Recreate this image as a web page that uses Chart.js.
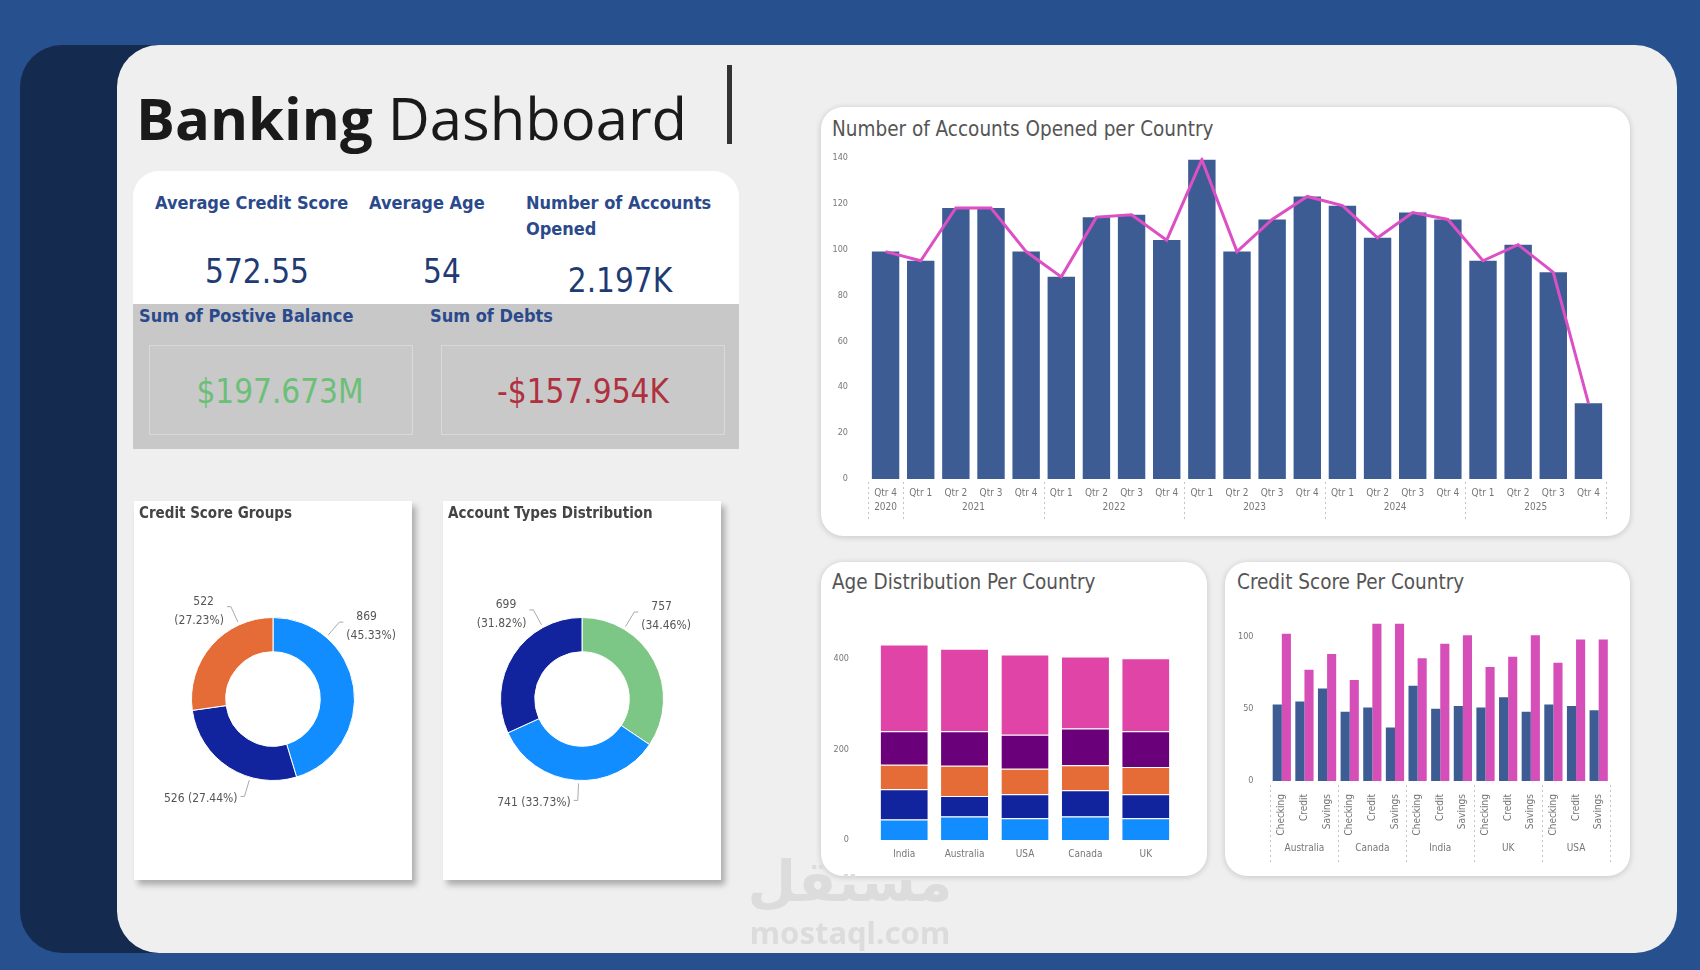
<!DOCTYPE html>
<html>
<head>
<meta charset="utf-8">
<script src="https://cdn.jsdelivr.net/npm/chart.js@4.4.1/dist/chart.umd.min.js"></script>
<style>
  html, body { margin: 0; padding: 0; }
  body { width: 1700px; height: 970px; background: #27508f; position: relative; overflow: hidden;
         font-family: 'DejaVu Sans Condensed', 'Liberation Sans Narrow', Roboto, sans-serif; }
  .abs { position: absolute; }
  .navy { left: 20px; top: 45px; width: 300px; height: 908px; background: #152a4f; border-radius: 42px; }
  .panel { left: 117px; top: 45px; width: 1560px; height: 908px; background: #efefef; border-radius: 42px; }
  .card { background: #fff; border-radius: 22px; box-shadow: 0 1px 6px rgba(0,0,0,0.18); }
  .sq { background: #fff; box-shadow: 4px 5px 6px rgba(0,0,0,0.28); }
  .ctitle { color: #555; font-size: 20.5px; white-space: nowrap; }
  .dtitle { color: #444; font-size: 15px; font-weight: bold; white-space: nowrap; }
  .klabel { color: #2b4a8c; font-size: 18px; font-weight: bold; white-space: nowrap; line-height: 26px; }
  .kval { color: #1f3b73; font-size: 33px; white-space: nowrap; line-height: 40px; transform: translateX(-50%); }
  .big { font-size: 33px; line-height: 44px; white-space: nowrap; transform: translateX(-50%); }
  .box { background: #c9c9c9; border: 1px solid #d9d9d9; }
</style>
</head>
<body>
<div class="abs navy"></div>
<div class="abs panel"></div>

<!-- title -->
<div class="abs" style="left:136px; top:78px; font-family:'Open Sans','Noto Sans',sans-serif; font-size:58px; line-height:80px; color:#1a1a1a; white-space:nowrap;">
  <span style="font-weight:bold;">Banking</span> Dashboard
</div>
<div class="abs" style="left:727px; top:65px; width:5px; height:79px; background:#333;"></div>

<!-- KPI block -->
<div class="abs" style="left:133px; top:171px; width:606px; height:133px; background:#fff; border-radius:26px 26px 0 0;"></div>
<div class="abs" style="left:133px; top:304px; width:606px; height:145px; background:#c8c8c8;"></div>
<div class="abs box" style="left:149px; top:345px; width:262px; height:88px;"></div>
<div class="abs box" style="left:441px; top:345px; width:282px; height:88px;"></div>

<div class="abs klabel" style="left:155px; top:190px;">Average Credit Score</div>
<div class="abs klabel" style="left:369px; top:190px;">Average Age</div>
<div class="abs klabel" style="left:526px; top:190px;">Number of Accounts<br>Opened</div>
<div class="abs kval" style="left:257px; top:252px;">572.55</div>
<div class="abs kval" style="left:442px; top:252px;">54</div>
<div class="abs kval" style="left:620px; top:261px;">2.197K</div>
<div class="abs klabel" style="left:139px; top:303px;">Sum of Postive Balance</div>
<div class="abs klabel" style="left:430px; top:303px;">Sum of Debts</div>
<div class="abs big" style="left:280px; top:370px; color:#6cbf77;">$197.673M</div>
<div class="abs big" style="left:583px; top:370px; color:#b0303f;">-$157.954K</div>

<!-- donut cards -->
<div class="abs sq" style="left:134px; top:501px; width:278px; height:379px;">
  <div class="abs dtitle" style="left:5px; top:3px;">Credit Score Groups</div>
  <canvas id="donut1"></canvas>
</div>
<div class="abs sq" style="left:443px; top:501px; width:278px; height:379px;">
  <div class="abs dtitle" style="left:5px; top:3px;">Account Types Distribution</div>
  <canvas id="donut2"></canvas>
</div>

<!-- main bar chart -->
<div class="abs card" style="left:821px; top:107px; width:809px; height:429px;"></div>
<div class="abs ctitle" style="left:832px; top:117px;">Number of Accounts Opened per Country</div>
<div class="abs" style="left:821px; top:140px; width:809px; height:396px;"><canvas id="accounts"></canvas></div>

<!-- age chart -->
<div class="abs card" style="left:821px; top:562px; width:386px; height:314px;"></div>
<div class="abs ctitle" style="left:832px; top:570px;">Age Distribution Per Country</div>
<div class="abs" style="left:821px; top:600px; width:386px; height:276px;"><canvas id="age"></canvas></div>

<!-- credit score chart -->
<div class="abs card" style="left:1225px; top:562px; width:405px; height:314px;"></div>
<div class="abs ctitle" style="left:1237px; top:570px;">Credit Score Per Country</div>
<div class="abs" style="left:1225px; top:600px; width:405px; height:276px;"><canvas id="credit"></canvas></div>

<!-- watermark -->
<div class="abs" style="left:850px; top:846px; transform:translateX(-50%); font-family:'Noto Sans','DejaVu Sans',sans-serif; font-size:56px; font-weight:bold; color:#dcdcdc; line-height:66px;">مستقل</div>
<div class="abs" style="left:850px; top:912px; transform:translateX(-50%); font-family:'Noto Sans','DejaVu Sans',sans-serif; font-size:31px; font-weight:bold; color:#dcdcdc; line-height:40px;">mostaql.com</div>

<script>
// ---- data ----
const quarterLabels = ['Qtr 4','Qtr 1','Qtr 2','Qtr 3','Qtr 4','Qtr 1','Qtr 2','Qtr 3','Qtr 4','Qtr 1','Qtr 2','Qtr 3','Qtr 4','Qtr 1','Qtr 2','Qtr 3','Qtr 4','Qtr 1','Qtr 2','Qtr 3','Qtr 4'];
const quarterYears = ['2020','2021','2021','2021','2021','2022','2022','2022','2022','2023','2023','2023','2023','2024','2024','2024','2024','2025','2025','2025','2025'];
const accountsOpened = [99,95,118,118,99,88,114,115,104,139,99,113,123,119,105,116,113,95,102,90,33];
const accountTicks = [0,20,40,60,80,100,120,140];

const ageCountries = ['India','Australia','USA','Canada','UK'];
const ageGroup1 = [45,52,48,52,48];
const ageGroup2 = [67,45,53,58,53];
const ageGroup3 = [54,67,56,55,60];
const ageGroup4 = [74,76,75,81,79];
const ageGroup5 = [191,182,177,159,161];
const ageTicks = [0,200,400];

const creditCountries = ['Australia','Canada','India','UK','USA'];
const accountTypes = ['Checking','Credit','Savings'];
const creditSeriesA = [53,55,64, 48,51,37, 66,50,52, 51,58,48, 53,52,49];
const creditSeriesB = [102,77,88, 70,109,109, 85,95,101, 79,86,101, 82,98,98];
const creditTicks = [0,50,100];

const scoreGroupLabels = ['Group A','Group B','Group C'];
const scoreGroupValues = [869,526,522];
const accountTypeLabels = ['Savings','Checking','Credit'];
const accountTypeValues = [757,741,699];

// ---- helpers ----
const FONT = "'DejaVu Sans Condensed', 'Liberation Sans Narrow', Roboto, sans-serif";
Chart.defaults.font.family = FONT;
Chart.defaults.animation = false;
Chart.defaults.plugins.legend.display = false;
Chart.defaults.plugins.tooltip.enabled = false;

function fixTicks(vals) {
  return function(scale) { scale.ticks = vals.map(v => ({ value: v })); };
}

// group labels + dotted separators under a category axis (offsets from chart bottom)
function groupPlugin(groups, labelOff, lineTopOff, lineBottomOff) {
  return {
    id: 'groups',
    afterDraw(chart) {
      const x = chart.scales.x, ctx = chart.ctx;
      const base = chart.chartArea.bottom;
      const n = groups.length;
      const half = (x.getPixelForValue(1) - x.getPixelForValue(0)) / 2;
      ctx.save();
      ctx.strokeStyle = '#c4c4c4';
      ctx.lineWidth = 1;
      ctx.setLineDash([2, 3]);
      ctx.fillStyle = '#777';
      ctx.font = '10px ' + FONT;
      ctx.textAlign = 'center';
      ctx.textBaseline = 'middle';
      let start = 0;
      for (let i = 0; i <= n; i++) {
        if (i === n || groups[i] !== groups[start]) {
          const left = x.getPixelForValue(start) - half;
          const right = x.getPixelForValue(i - 1) + half;
          ctx.fillText(groups[start], (left + right) / 2, base + labelOff);
          [left, right].forEach(px => {
            ctx.beginPath();
            ctx.moveTo(Math.round(px) + 0.5, base + lineTopOff);
            ctx.lineTo(Math.round(px) + 0.5, base + lineBottomOff);
            ctx.stroke();
          });
          start = i;
        }
      }
      ctx.restore();
    }
  };
}

const donutLabels = {
  id: 'donutLabels',
  afterDatasetsDraw(chart) {
    const ctx = chart.ctx;
    const meta = chart.getDatasetMeta(0);
    const data = chart.data.datasets[0].data;
    const total = data.reduce((a, b) => a + b, 0);
    ctx.save();
    ctx.font = '12px ' + FONT;
    ctx.fillStyle = '#555';
    ctx.strokeStyle = '#aaa';
    ctx.lineWidth = 1;
    meta.data.forEach((arc, i) => {
      const p = arc.getProps(['x', 'y', 'startAngle', 'endAngle', 'outerRadius'], true);
      const mid = (p.startAngle + p.endAngle) / 2;
      const m = Math.atan2(Math.sin(mid), Math.cos(mid));
      const up = Math.sin(m) < 0;
      const target = up ? -Math.PI / 2 : Math.PI / 2;
      const a = m + (target - m) * 0.5;
      const r = p.outerRadius;
      const sx = p.x + Math.cos(a) * (r + 3), sy = p.y + Math.sin(a) * (r + 3);
      const ax = p.x + Math.cos(a) * (r + 20), ay = p.y + Math.sin(a) * (r + 20);
      const right = Math.cos(a) > 0;
      ctx.beginPath();
      ctx.moveTo(sx, sy);
      ctx.lineTo(ax, ay);
      ctx.lineTo(ax + (right ? 4 : -4), ay);
      ctx.stroke();
      const val = String(data[i]);
      const pct = '(' + (data[i] / total * 100).toFixed(2) + '%)';
      ctx.textAlign = right ? 'left' : 'right';
      ctx.textBaseline = 'middle';
      const tx = ax + (right ? 7 : -7);
      if (up) {
        ctx.fillText(val, tx + (right ? 10 : -10), ay - 5);
        ctx.fillText(pct, tx, ay + 14);
      } else {
        ctx.fillText(val + ' ' + pct, tx, ay + 2);
      }
    });
    ctx.restore();
  }
};

// ---- accounts opened ----
new Chart(document.getElementById('accounts'), {
  type: 'bar',
  data: {
    labels: quarterLabels,
    datasets: [
      { type: 'line', data: accountsOpened, borderColor: '#dd4fc4', borderWidth: 3, pointRadius: 0, tension: 0, order: 0 },
      { type: 'bar', data: accountsOpened, backgroundColor: '#3e5c94', barPercentage: 0.78, categoryPercentage: 1, order: 1 }
    ]
  },
  options: {
    responsive: true, maintainAspectRatio: false,
    layout: { padding: { top: 8, right: 24, left: 0, bottom: 0 } },
    scales: {
      x: {
        grid: { display: false }, border: { display: false },
        ticks: { color: '#777', font: { size: 10 }, maxRotation: 0, autoSkip: false, padding: 0 },
        afterFit(s) { s.height = 57; }
      },
      y: {
        min: 0, max: 140,
        grid: { display: false }, border: { display: false },
        afterBuildTicks: fixTicks(accountTicks),
        ticks: { color: '#777', font: { size: 9 }, padding: 12 },
        afterFit(s) { s.width = 47; }
      }
    }
  },
  plugins: [groupPlugin(quarterYears, 28, 3, 41)]
});

// ---- age distribution ----
const ageColors = ['#118dff', '#12239e', '#e66c37', '#6b007b', '#e044a7'];
const ageSeries = [ageGroup1, ageGroup2, ageGroup3, ageGroup4, ageGroup5];
new Chart(document.getElementById('age'), {
  type: 'bar',
  data: {
    labels: ageCountries,
    datasets: ageSeries.map((d, i) => ({
      label: 'Age group ' + (i + 1), data: d, backgroundColor: ageColors[i],
      borderColor: '#ffffff', borderWidth: { top: 1 }, borderSkipped: false,
      barPercentage: 0.78, categoryPercentage: 1
    }))
  },
  options: {
    responsive: true, maintainAspectRatio: false,
    layout: { padding: { top: 12, right: 31, left: 0, bottom: 0 } },
    scales: {
      x: {
        stacked: true, grid: { display: false }, border: { display: false },
        ticks: { color: '#777', font: { size: 10 }, maxRotation: 0, padding: 0 },
        afterFit(s) { s.height = 36; }
      },
      y: {
        stacked: true, min: 0, max: 480,
        grid: { display: false }, border: { display: false },
        afterBuildTicks: fixTicks(ageTicks),
        ticks: { color: '#777', font: { size: 9 }, padding: 17 },
        afterFit(s) { s.width = 53; }
      }
    }
  }
});

// ---- credit score per country ----
const creditLabels = creditCountries.flatMap(() => accountTypes);
const creditGroups = creditCountries.flatMap(c => accountTypes.map(() => c));
new Chart(document.getElementById('credit'), {
  type: 'bar',
  data: {
    labels: creditLabels,
    datasets: [
      { label: 'Series 1', data: creditSeriesA, backgroundColor: '#3e5c94', barPercentage: 1, categoryPercentage: 0.806 },
      { label: 'Series 2', data: creditSeriesB, backgroundColor: '#d64fb9', barPercentage: 1, categoryPercentage: 0.806 }
    ]
  },
  options: {
    responsive: true, maintainAspectRatio: false,
    layout: { padding: { top: 15, right: 20, left: 0, bottom: 0 } },
    scales: {
      x: {
        grid: { display: false }, border: { display: false },
        ticks: { color: '#777', font: { size: 10 }, minRotation: 90, maxRotation: 90, autoSkip: false, padding: 5 },
        afterFit(s) { s.height = 95; }
      },
      y: {
        min: 0, max: 115,
        grid: { display: false }, border: { display: false },
        afterBuildTicks: fixTicks(creditTicks),
        ticks: { color: '#777', font: { size: 9 }, padding: 9 },
        afterFit(s) { s.width = 45.5; }
      }
    }
  },
  plugins: [groupPlugin(creditGroups, 67, 4, 81)]
});

// ---- donuts ----
function donut(id, labels, values, colors) {
  new Chart(document.getElementById(id), {
    type: 'doughnut',
    data: { labels: labels, datasets: [{ data: values, backgroundColor: colors, borderColor: '#ffffff', borderWidth: 1 }] },
    options: {
      responsive: true, maintainAspectRatio: false, cutout: '58%',
      layout: { padding: { left: 57, right: 57, top: 116, bottom: 99 } }
    },
    plugins: [donutLabels]
  });
}
donut('donut1', scoreGroupLabels, scoreGroupValues, ['#118dff', '#12239e', '#e66c37']);
donut('donut2', accountTypeLabels, accountTypeValues, ['#7cc686', '#118dff', '#12239e']);
</script>
</body>
</html>
